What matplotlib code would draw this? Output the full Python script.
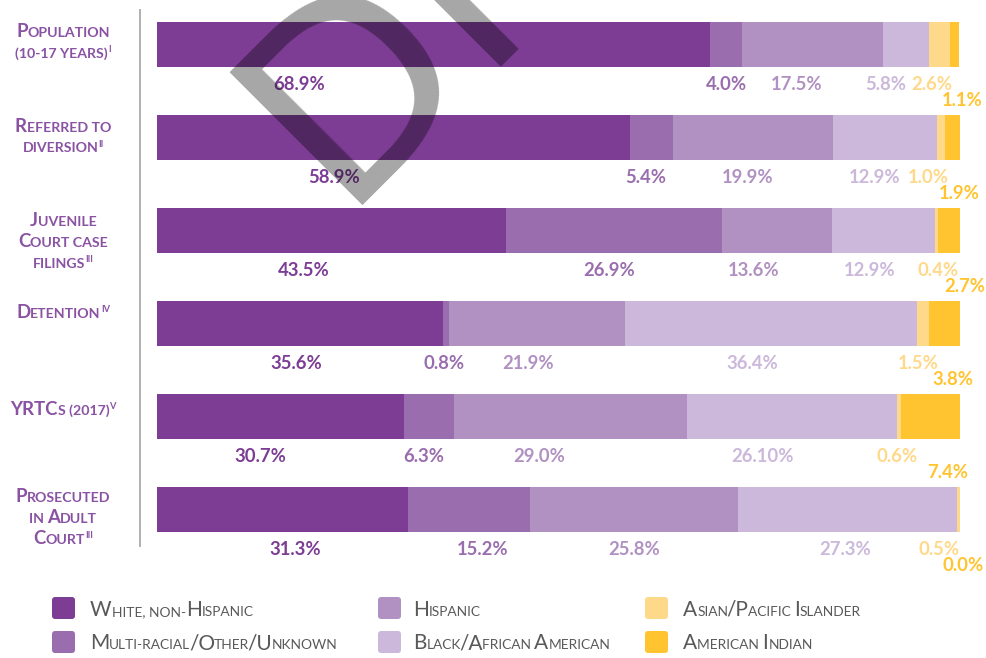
"""Stacked shares of youth by race/ethnicity across justice-system stages."""

import matplotlib

matplotlib.use("Agg")
import matplotlib.pyplot as plt
import numpy as np
from matplotlib.lines import Line2D
from matplotlib.patches import FancyBboxPatch
from matplotlib.transforms import IdentityTransform

# ---- data -------------------------------------------------------------
stages = [
    ["Population", "(10-17 years)"],
    ["Referred to", "diversion"],
    ["Juvenile", "Court case", "filings"],
    ["Detention"],
    ["YRTCs (2017)"],
    ["Prosecuted", "in Adult", "Court"],
]
stage_notes = ["I", "II", "III", "IV", "V", "III"]

groups = [
    "White, non-Hispanic",
    "Multi-racial/Other/Unknown",
    "Hispanic",
    "Black/African American",
    "Asian/Pacific Islander",
    "American Indian",
]
white = [68.9, 58.9, 43.5, 35.6, 30.7, 31.3]
multi = [4.0, 5.4, 26.9, 0.8, 6.3, 15.2]
hispanic = [17.5, 19.9, 13.6, 21.9, 29.0, 25.8]
black = [5.8, 12.9, 12.9, 36.4, 26.1, 27.3]
asian = [2.6, 1.0, 0.4, 1.5, 0.6, 0.5]
am_indian = [1.1, 1.9, 2.7, 3.8, 7.4, 0.0]
# the source prints this one with two decimals
label_override = {(4, 3): "26.10%"}

# ---- layout / style ---------------------------------------------------
colors = ["#7d3d95", "#9a6eae", "#b091c2", "#cbb8da", "#ffd98a", "#ffc430"]
# hand placement of the value labels, in percentage points from segment centre
label_nudge = [
    [-16.7, 0.0, -2.0, -2.6, -1.0, 0.9],
    [-7.4, -0.7, -0.7, -1.3, -1.6, 0.9],
    [-3.5, -0.7, -2.9, -1.7, 0.2, 2.0],
    [-0.5, -0.3, -1.1, -2.4, -0.7, 1.0],
    [-2.5, -0.6, -3.9, -3.7, -0.2, 2.1],
    [1.6, 1.6, 0.0, -0.2, -2.5, 0.3],
]
# row-label blocks are not quite centred on their bars (pixels)
row_label_shift = [-1.5, 0, 12, -10, -6, 9]
W, H = 987, 658
FONT = "Lato"
LABEL_PURPLE = "#8a52a3"
LEGEND_GRAY = "#595959"

fig = plt.figure(figsize=(W / 100, H / 100), dpi=100)
renderer = fig.canvas.get_renderer()


def _ink(s, size, weight):
    t = fig.text(0, 0, s, fontsize=size, fontweight=weight, family=FONT)
    w = t.get_window_extent(renderer).width
    t.remove()
    return w


def text_width(s, size, weight):
    # advance width: bracket with bars so side bearings and spaces count
    return _ink("|" + s + "|", size, weight) - _ink("||", size, weight)


def small_caps(px, py, s, size, color, weight="normal", ratio=0.75, ha="left", sup=""):
    """Fake small caps: capitals at full size, the rest upper-cased and smaller.
    px, py are pixels from the top-left; py is the baseline."""
    runs = []
    for ch in s:
        fs = size if (ch.isupper() or ch == "/") else size * ratio
        if runs and runs[-1][1] == fs and not runs[-1][2]:
            runs[-1][0] += ch.upper()
        else:
            runs.append([ch.upper(), fs, False])
    if sup:
        runs.append([sup, size * 0.5, True])
    widths = [text_width(r[0], r[1], weight) for r in runs]
    # tighten the slash a little (no cross-run kerning otherwise)
    for k, r in enumerate(runs):
        if r[0].startswith("/") and k > 0:
            widths[k - 1] -= 1.5
            widths[k] -= 1.0
    x = px - sum(widths) / 2 if ha == "center" else px
    for (txt, fs, is_sup), w in zip(runs, widths):
        dy = size * 0.42 if is_sup else 0
        fig.text(x / W, 1 - (py - dy) / H, txt, fontsize=fs, fontweight=weight,
                 color=color, family=FONT, ha="left", va="baseline")
        x += w


# ---- bars -------------------------------------------------------------
series = [white, multi, hispanic, black, asian, am_indian]
y = np.arange(len(stages))
row0_px, row_step = 44.5, 93.0
top_px = row0_px - 0.45 * row_step
bot_px = row0_px + 5.5 * row_step
ax = fig.add_axes([157 / W, 1 - bot_px / H, 803 / W, (bot_px - top_px) / H])
ax.set_xlim(0, 100)
ax.set_ylim(5.5, -0.45)
ax.set_axis_off()

left = np.zeros(len(stages))
for j, (vals, col) in enumerate(zip(series, colors)):
    vals = np.asarray(vals)
    ax.barh(y, vals, left=left, height=0.485, color=col, linewidth=0)
    centers = left + vals / 2
    for i, v in enumerate(vals):
        txt = label_override.get((i, j), f"{v:.1f}%")
        drop = -44.6 if j == 5 else -33.1  # points below the bar centre
        ax.annotate(txt, xy=(centers[i] + label_nudge[i][j], y[i]),
                    xytext=(0, drop), textcoords="offset points",
                    ha="center", va="baseline", fontsize=13.3,
                    fontweight="bold", color=col, family=FONT,
                    annotation_clip=False)
    left = left + vals

# divider between row labels and bars
fig.add_artist(Line2D([139.5, 139.5], [H - 10, H - 546], transform=IdentityTransform(),
                      color="#b0b0b0", lw=1.4))

# ---- row labels -------------------------------------------------------
line_gap = 20.5
for i, lines in enumerate(stages):
    c = row0_px + i * row_step - 2 + row_label_shift[i]
    first = c - (len(lines) - 1) / 2 * line_gap + 6.5
    for k, line in enumerate(lines):
        small_caps(63, first + k * line_gap, line, 13.4, LABEL_PURPLE, weight="bold",
                   ratio=0.76, ha="center",
                   sup=stage_notes[i] if k == len(lines) - 1 else "")

# ---- legend -----------------------------------------------------------
col_sq = [52, 378, 645]
col_txt = [90, 413, 683]
row_sq = [597, 631]
row_base = [616, 649]
for n, (name, col) in enumerate(zip(groups, colors)):
    c, r = divmod(n, 2)
    sq = FancyBboxPatch((col_sq[c] + 2, H - row_sq[r] - 22 + 2), 19, 18,
                        boxstyle="round,pad=2,rounding_size=3",
                        transform=IdentityTransform(), facecolor=col, edgecolor="none")
    fig.add_artist(sq)
    small_caps(col_txt[c], row_base[r], name, 15.0, LEGEND_GRAY, ratio=0.66)

# ---- watermark --------------------------------------------------------
fig.text(338 / W, 1 - 205 / H, "DRAFT", fontsize=184, family="DejaVu Sans",
         rotation=45, rotation_mode="anchor", ha="left", va="baseline",
         color="black", alpha=0.35, zorder=10)

fig.savefig("out.png", dpi=100)
